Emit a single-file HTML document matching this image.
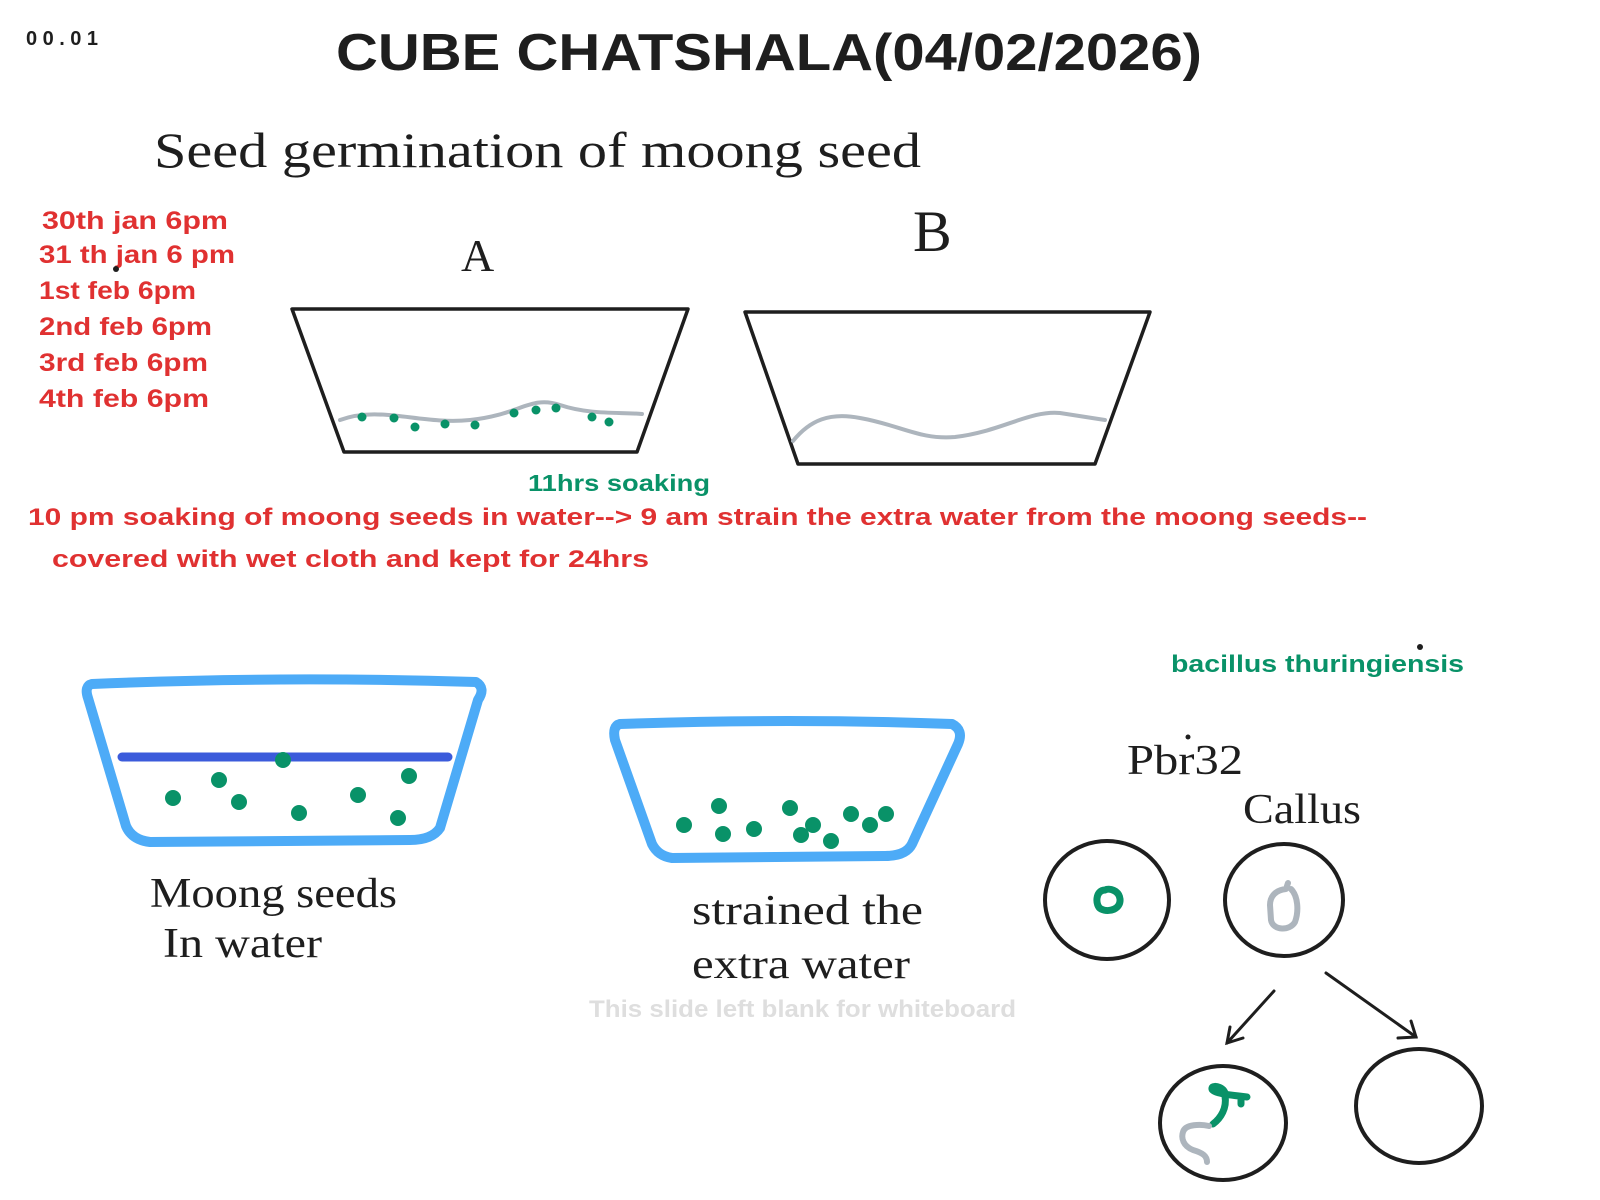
<!DOCTYPE html>
<html><head><meta charset="utf-8"><style>
html,body{margin:0;padding:0;background:#fff;}
svg{display:block}
.h{font-family:"Liberation Sans",sans-serif;font-weight:bold}
.s{font-family:"Liberation Serif",serif}
</style></head><body>
<svg width="1600" height="1200" viewBox="0 0 1600 1200" xmlns="http://www.w3.org/2000/svg">
<rect width="1600" height="1200" fill="#fff"/>
<text x="26" y="45" class="h" font-size="20" fill="#1e1e1e" textLength="72">00.01</text>
<text x="336" y="70" class="h" font-size="52" fill="#1e1e1e" textLength="866" lengthAdjust="spacingAndGlyphs">CUBE CHATSHALA(04/02/2026)</text>
<text x="154" y="167" class="s" font-size="50" fill="#1e1e1e" textLength="767" lengthAdjust="spacingAndGlyphs">Seed germination of moong seed</text>

<g class="h" font-size="25" fill="#e03131">
<text x="42" y="229" textLength="186" lengthAdjust="spacingAndGlyphs">30th jan 6pm</text>
<text x="39" y="263" textLength="196" lengthAdjust="spacingAndGlyphs">31 th jan 6 pm</text>
<text x="39" y="299" textLength="157" lengthAdjust="spacingAndGlyphs">1st feb 6pm</text>
<text x="39" y="335" textLength="173" lengthAdjust="spacingAndGlyphs">2nd feb 6pm</text>
<text x="39" y="371" textLength="169" lengthAdjust="spacingAndGlyphs">3rd feb 6pm</text>
<text x="39" y="407" textLength="170" lengthAdjust="spacingAndGlyphs">4th feb 6pm</text>
</g>
<circle cx="116" cy="269" r="3" fill="#1e1e1e"/>

<text x="461" y="271" class="s" font-size="46" fill="#1e1e1e">A</text>
<text x="913" y="251" class="s" font-size="58" fill="#1e1e1e">B</text>

<polygon points="292,309 688,309 637,452 344,452" fill="none" stroke="#1e1e1e" stroke-width="3.5" stroke-linejoin="round"/>
<path d="M340,420 C380,405 420,425 470,420 S530,395 560,405 S620,412 642,414" fill="none" stroke="#adb5bd" stroke-width="4" stroke-linecap="round"/>
<g fill="#099268">
<circle cx="362" cy="417" r="4.5"/><circle cx="394" cy="418" r="4.5"/><circle cx="415" cy="427" r="4.5"/><circle cx="445" cy="424" r="4.5"/><circle cx="475" cy="425" r="4.5"/><circle cx="514" cy="413" r="4.5"/><circle cx="536" cy="410" r="4.5"/><circle cx="556" cy="408" r="4.5"/><circle cx="592" cy="417" r="4.5"/><circle cx="609" cy="422" r="4.5"/>
</g>

<polygon points="745,312 1150,312 1095,464 798,464" fill="none" stroke="#1e1e1e" stroke-width="3.5" stroke-linejoin="round"/>
<path d="M793,441 C810,420 830,412 860,418 C900,425 920,440 955,437 C1000,432 1030,410 1060,413 L1105,420" fill="none" stroke="#adb5bd" stroke-width="4" stroke-linecap="round"/>

<text x="528" y="491" class="h" font-size="23" fill="#099268" textLength="182" lengthAdjust="spacingAndGlyphs">11hrs soaking</text>
<text x="28" y="525" class="h" font-size="24" fill="#e03131" textLength="1339" lengthAdjust="spacingAndGlyphs">10 pm soaking of moong seeds in water--&gt; 9 am strain the extra water from the moong seeds--</text>
<text x="52" y="567" class="h" font-size="24" fill="#e03131" textLength="597" lengthAdjust="spacingAndGlyphs">covered with wet cloth and kept for 24hrs</text>
<text x="1171" y="672" class="h" font-size="24" fill="#099268" textLength="293" lengthAdjust="spacingAndGlyphs">bacillus thuringiensis</text>
<circle cx="1420" cy="647" r="3" fill="#1e1e1e"/>

<path d="M92,684 Q280,676 476,682 Q486,688 478,700 L440,828 Q432,840 410,840 L150,842 Q132,840 126,826 L88,698 Q84,686 92,684 Z" fill="none" stroke="#4dabf7" stroke-width="10" stroke-linejoin="round"/>
<line x1="122" y1="757" x2="448" y2="757" stroke="#3b5bdb" stroke-width="9" stroke-linecap="round"/>
<g fill="#099268">
<circle cx="283" cy="760" r="8"/><circle cx="219" cy="780" r="8"/><circle cx="173" cy="798" r="8"/><circle cx="239" cy="802" r="8"/><circle cx="299" cy="813" r="8"/><circle cx="358" cy="795" r="8"/><circle cx="409" cy="776" r="8"/><circle cx="398" cy="818" r="8"/>
</g>

<path d="M620,724 Q790,718 952,724 Q964,730 958,744 L912,844 Q906,856 885,856 L672,858 Q658,856 652,844 L615,740 Q612,726 620,724 Z" fill="none" stroke="#4dabf7" stroke-width="10" stroke-linejoin="round"/>
<g fill="#099268">
<circle cx="719" cy="806" r="8"/><circle cx="684" cy="825" r="8"/><circle cx="723" cy="834" r="8"/><circle cx="754" cy="829" r="8"/><circle cx="790" cy="808" r="8"/><circle cx="813" cy="825" r="8"/><circle cx="801" cy="835" r="8"/><circle cx="831" cy="841" r="8"/><circle cx="851" cy="814" r="8"/><circle cx="870" cy="825" r="8"/><circle cx="886" cy="814" r="8"/>
</g>

<g class="s" font-size="42" fill="#1e1e1e">
<text x="150" y="907" textLength="247" lengthAdjust="spacingAndGlyphs">Moong seeds</text>
<text x="163" y="957" textLength="159" lengthAdjust="spacingAndGlyphs">In water</text>
<text x="692" y="924" textLength="231" lengthAdjust="spacingAndGlyphs">strained the</text>
<text x="692" y="978" textLength="218" lengthAdjust="spacingAndGlyphs">extra water</text>
<text x="1127" y="774" textLength="116" lengthAdjust="spacingAndGlyphs">Pbr32</text>
<text x="1243" y="823" textLength="118" lengthAdjust="spacingAndGlyphs">Callus</text>
</g>
<circle cx="1188" cy="737" r="2.5" fill="#1e1e1e"/>
<text x="589" y="1017" class="h" font-size="24" fill="#dedede" textLength="427" lengthAdjust="spacingAndGlyphs">This slide left blank for whiteboard</text>

<g transform="translate(-5,-4)">
<g fill="none" stroke="#1e1e1e" stroke-width="4">
<ellipse cx="1112" cy="904" rx="62" ry="59"/>
<ellipse cx="1289" cy="904" rx="59" ry="56"/>
<ellipse cx="1228" cy="1127" rx="63" ry="57"/>
<ellipse cx="1424" cy="1110" rx="63" ry="57"/>
</g>
<g fill="none" stroke="#1e1e1e" stroke-width="3" stroke-linecap="round">
<line x1="1279" y1="995" x2="1232" y2="1047"/>
<polyline points="1235,1031 1232,1047 1248,1042"/>
<line x1="1331" y1="977" x2="1421" y2="1041"/>
<polyline points="1403,1042 1421,1041 1416,1025"/>
</g>
<path d="M1110,894 C1100,894 1100,910 1106,913 C1114,917 1126,913 1125,903 C1124,894 1114,892 1110,894 Z" fill="none" stroke="#099268" stroke-width="7"/>
<path d="M1291,893 C1281,894 1275,900 1275,909 L1276,924 C1278,935 1295,935 1300,926 C1304,915 1303,900 1296,893 M1291,893 L1293,887" fill="none" stroke="#adb5bd" stroke-width="6" stroke-linecap="round"/>
<path d="M1218,1128 C1226,1122 1232,1112 1230,1100 C1232,1092 1218,1088 1217,1092 C1216,1096 1226,1098 1244,1100 L1252,1101 M1246,1102 L1246,1108" fill="none" stroke="#099268" stroke-width="7" stroke-linecap="round"/>
<path d="M1214,1130 C1206,1128 1190,1128 1188,1136 C1186,1142 1188,1150 1198,1154 C1208,1157 1212,1160 1212,1166" fill="none" stroke="#adb5bd" stroke-width="6" stroke-linecap="round"/>
</g>
</svg>
</body></html>
